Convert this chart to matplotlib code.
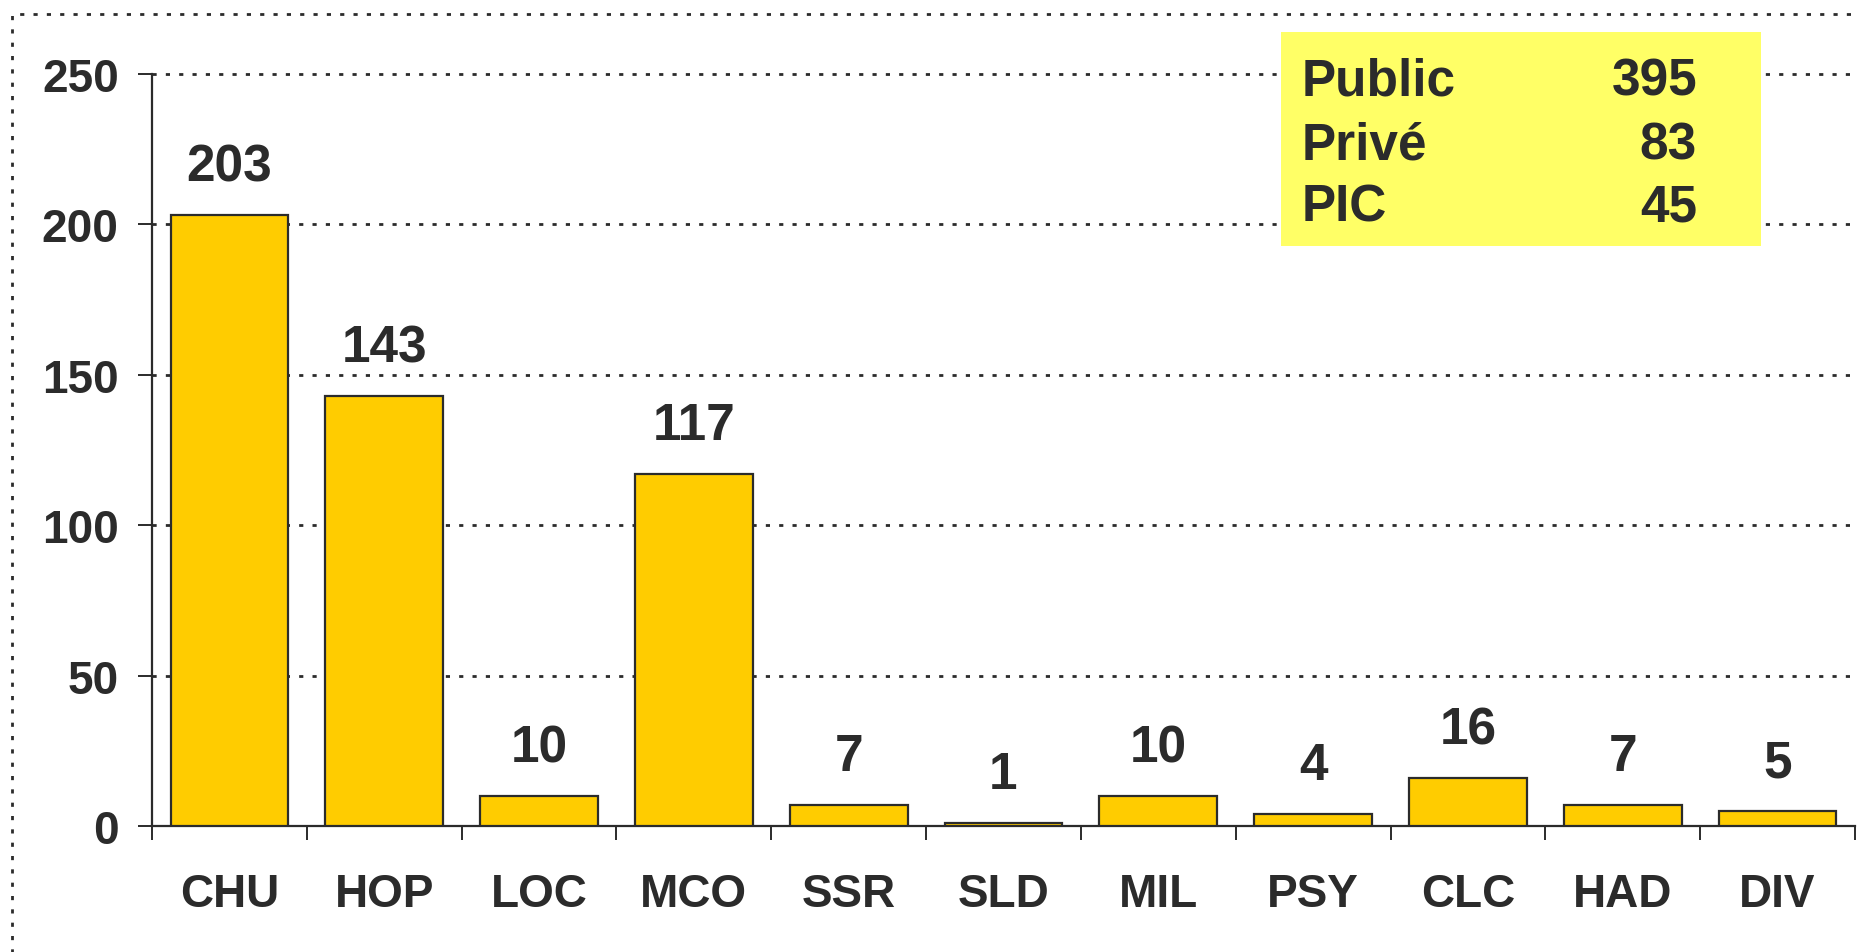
import matplotlib
matplotlib.use('Agg')

import matplotlib.pyplot as plt
from matplotlib.lines import Line2D
from matplotlib.patches import Rectangle

# ==========================
# Données
# ==========================
categories = ["CHU", "HOP", "LOC", "MCO", "SSR", "SLD", "MIL", "PSY", "CLC", "HAD", "DIV"]
values = [203, 143, 10, 117, 7, 1, 10, 4, 16, 7, 5]

box_labels = ["Public", "Privé", "PIC"]
box_values = [395, 83, 45]

# ==========================
# Style
# ==========================
plt.rcParams['font.family'] = ['Liberation Sans', 'DejaVu Sans']
plt.rcParams['font.weight'] = 'bold'
txt = '#2b2b2b'
W, H = 1857, 953
dots = (0, (1.5, 3.3))

fig = plt.figure(figsize=(W / 100, H / 100), dpi=100)
ax = fig.add_axes([152 / W, 1 - 827 / H, (1855 - 152) / W, (827 - 75) / H])

x = list(range(len(categories)))
ax.bar(x, values, width=0.76, color='#FFCC00', edgecolor='#2b2b2b',
       linewidth=1.6, zorder=3)

for xi, v in zip(x, values):
    ax.annotate(str(v), (xi, v), xytext=(0, 25), textcoords='offset points',
                ha='center', va='baseline', fontsize=37, fontweight='bold',
                color=txt)

ax.set_xlim(-0.5, len(categories) - 0.5)
ax.set_ylim(0, 250)
ax.set_yticks([0, 50, 100, 150, 200, 250])

# labels au centre, petites graduations aux limites
ax.set_xticks(x)
ax.set_xticklabels(categories)
ax.set_xticks([i - 0.5 for i in range(len(categories) + 1)], minor=True)
ax.tick_params(axis='x', which='major', length=0, pad=33, labelsize=33,
               labelcolor=txt)
ax.tick_params(axis='x', which='minor', length=10, width=1.4, color='#2b2b2b',
               direction='out')
ax.tick_params(axis='y', length=10, width=1.4, color='#2b2b2b', pad=14,
               labelsize=33, labelcolor=txt)

for s in ['top', 'right']:
    ax.spines[s].set_visible(False)
for s in ['left', 'bottom']:
    ax.spines[s].set_color('#2b2b2b')
    ax.spines[s].set_linewidth(1.6)

for gy in [50, 100, 150, 200, 250]:
    ax.axhline(gy, color='#2b2b2b', linewidth=2.0, linestyle=dots,
               zorder=1, clip_on=False)

# ==========================
# Cadre pointillé
# ==========================
fig.add_artist(Line2D([12 / W, 12 / W, 1.01], [-0.01, 1 - 15 / H, 1 - 15 / H],
                      transform=fig.transFigure, color='#2b2b2b',
                      linewidth=2.0, linestyle=dots))

# ==========================
# Encadré jaune
# ==========================
fig.add_artist(Rectangle((1281 / W, 1 - 247 / H), 480 / W, 214 / H,
                         transform=fig.transFigure, facecolor='#FFFF66',
                         edgecolor='none', zorder=5))

for i, (lab, val) in enumerate(zip(box_labels, box_values)):
    yb = 1 - (96 + 63 * i) / H
    fig.text(1302 / W, yb, lab, ha='left', va='baseline', fontsize=37,
             fontweight='bold', color=txt, zorder=6)
    fig.text(1697 / W, yb, str(val), ha='right', va='baseline', fontsize=37,
             fontweight='bold', color=txt, zorder=6)

fig.savefig("out.png", dpi=100)
plt.close()
